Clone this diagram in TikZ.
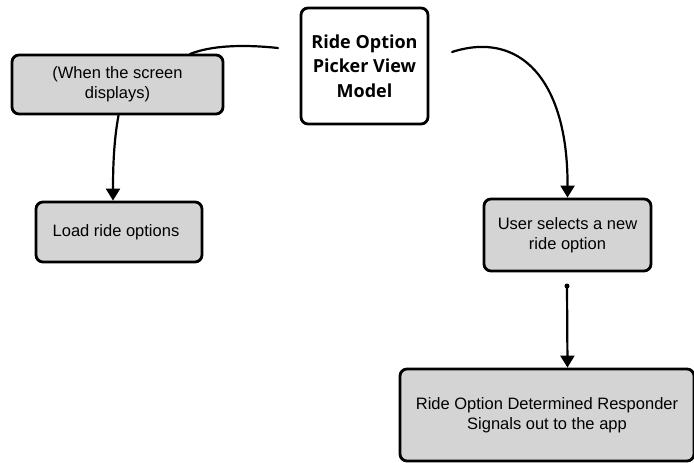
\documentclass[tikz,border=0pt]{standalone}
\usepackage{fontspec}
\setmainfont{Liberation Sans}
\newfontfamily\boldfam{Open Sans}
\usetikzlibrary{arrows.meta}
\begin{document}
\begin{tikzpicture}[x=1pt,y=-1pt,
  box/.style={draw=black, line width=2.8pt, rounded corners=7pt, fill=black!17, align=center, inner sep=0pt, font=\fontsize{16.5}{20}\selectfont},
  mainbox/.style={box, fill=white, font=\boldfam\bfseries\fontsize{18}{24.5}\selectfont},
  conn/.style={line width=2.2pt, line cap=round},
  arr/.style={conn, -{Triangle[width=14pt,length=12pt]}}]
\useasboundingbox (0,0) rectangle (694,463);
\node[mainbox, minimum width=127pt, minimum height=116pt] (main) at (364.5,66) {Ride Option\\Picker View\\Model};
\node[box, minimum width=211pt, minimum height=59pt] (when) at (117.5,84.5) {(When the screen\\displays)};
\node[box, minimum width=166pt, minimum height=60pt] (load) at (119,232) {\hspace*{-6pt}Load ride options};
\node[box, minimum width=167pt, minimum height=72pt] (user) at (567.5,235) {User selects a new\\ride option};
\node[box, minimum width=294pt, minimum height=92pt] (resp) at (547,415) {Ride Option Determined Responder\\Signals out to the app};
\coordinate (mL) at (278,48);
\coordinate (mR) at (452,52);
\draw[conn] (mL) .. controls (240,44) and (210,46) .. (190,54);
\draw[arr] (when.south) ++(1,0) .. controls (114,140) and (113,165) .. ([xshift=-6pt]load.north);
\draw[arr] (mR) .. controls (520,30) and (568,80) .. (user.north);
\fill (567,286) circle (2.5pt);
\draw[arr] (567,286) -- (resp.north -| user.south);
\end{tikzpicture}
\end{document}
